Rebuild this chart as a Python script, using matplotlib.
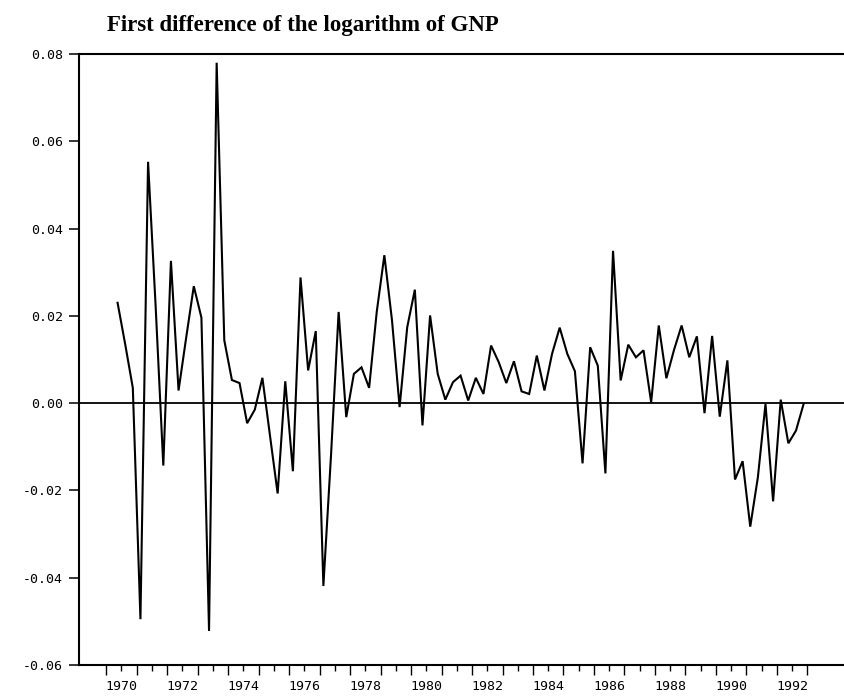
import matplotlib.pyplot as plt
import numpy as np
import pandas as pd
from matplotlib.ticker import FixedLocator, FixedFormatter

# quarterly first difference of log GNP, 1970Q2 .. 1992Q4
dlog_gnp = [
    0.0230, 0.0135, 0.0035, -0.0495, 0.0553, 0.0220, -0.0143, 0.0326,
    0.0029, 0.0150, 0.0268, 0.0196, -0.0522, 0.0780, 0.0144, 0.0053,
    0.0046, -0.0046, -0.0015, 0.0058, -0.0075, -0.0207, 0.0050, -0.0156,
    0.0288, 0.0075, 0.0165, -0.0419, -0.0120, 0.0209, -0.0032, 0.0067,
    0.0082, 0.0035, 0.0209, 0.0339, 0.0190, -0.0009, 0.0174, 0.0260,
    -0.0051, 0.0201, 0.0067, 0.0008, 0.0048, 0.0063, 0.0006, 0.0058,
    0.0021, 0.0132, 0.0094, 0.0046, 0.0096, 0.0027, 0.0021, 0.0109,
    0.0029, 0.0113, 0.0173, 0.0113, 0.0073, -0.0138, 0.0128, 0.0086,
    -0.0161, 0.0349, 0.0052, 0.0134, 0.0105, 0.0121, 0.0002, 0.0178,
    0.0057, 0.0122, 0.0178, 0.0105, 0.0153, -0.0023, 0.0154, -0.0031,
    0.0098, -0.0175, -0.0133, -0.0283, -0.0170, -0.0002, -0.0225, 0.0008,
    -0.0092, -0.0063, -0.0002,
]
first_quarter = '1970Q2'
year_labels = list(range(1970, 1993))
y_ticks = [-0.06, -0.04, -0.02, 0.00, 0.02, 0.04, 0.06, 0.08]

quarters = pd.period_range(first_quarter, periods=len(dlog_gnp), freq='Q')
# plot each quarter at its midpoint on a continuous year axis
t = quarters.year + (quarters.quarter - 1) / 4 + 0.125

fig = plt.figure(figsize=(8.44, 6.98), dpi=100)
ax = fig.add_axes([79 / 844, 33 / 698, 1 - 79 / 844, (665 - 54) / 698])

ax.plot(t, dlog_gnp, color='black', lw=1.5, solid_joinstyle='miter')
ax.axhline(0, color='black', lw=1.3)

ax.set_xlim(1969.11, 1994.2)
ax.set_ylim(-0.06, 0.08)

for side in ['left', 'top', 'bottom']:
    ax.spines[side].set_linewidth(1.5)
ax.spines['right'].set_visible(False)

tick_font = {'family': 'DejaVu Sans Mono', 'size': 9.5}

ax.set_yticks(y_ticks)
ax.set_yticklabels([f'{v:.2f}' for v in y_ticks], fontdict=tick_font)
ax.tick_params(axis='y', direction='out', length=7, width=1.1, pad=4.5)

# year midpoints carry the labels (every second year), year boundaries get longer ticks
mids = [y + 0.5 for y in year_labels]
ax.xaxis.set_major_locator(FixedLocator(mids))
ax.xaxis.set_major_formatter(FixedFormatter([str(y) if y % 2 == 0 else '' for y in year_labels]))
ax.xaxis.set_minor_locator(FixedLocator(year_labels + [1993]))
ax.tick_params(axis='x', which='major', direction='out', length=4, width=1.0, pad=7)
ax.tick_params(axis='x', which='minor', direction='out', length=7, width=1.0)
for lbl in ax.get_xticklabels():
    lbl.set_fontfamily('DejaVu Sans Mono')
    lbl.set_fontsize(9.5)

fig.text(107 / 844, 1 - 31 / 698, 'First difference of the logarithm of GNP',
         fontsize=16.5, fontweight='bold', family='Liberation Serif',
         ha='left', va='baseline')

fig.savefig('out.png', dpi=100)
